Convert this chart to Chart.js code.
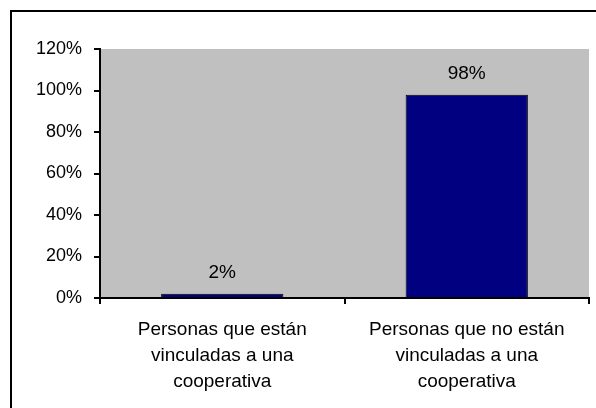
<!DOCTYPE html>
<html>
<head>
<meta charset="utf-8">
<script src="https://cdn.jsdelivr.net/npm/chart.js@4"></script>
<style>
  html, body { margin: 0; padding: 0; background: #fff; }
  #wrap { width: 596px; height: 408px; position: relative; }
</style>
</head>
<body>
<div id="wrap"><canvas id="chart"></canvas></div>
<script>
const categories = [
  ["Personas que están", "vinculadas a una", "cooperativa"],
  ["Personas que no están", "vinculadas a una", "cooperativa"],
];
const values = [2, 98];
const valueLabels = ["2%", "98%"];
const yTicks = [0, 20, 40, 60, 80, 100, 120];

const fontFamily = "'Liberation Sans', Arial, sans-serif";

// gray plot background + outer frame
const backdrop = {
  id: "backdrop",
  beforeDraw(chart) {
    const { ctx, chartArea: a } = chart;
    ctx.save();
    ctx.fillStyle = "#c0c0c0";
    ctx.fillRect(a.left, a.top, a.right - a.left, a.bottom - a.top);
    ctx.strokeStyle = "#000";
    ctx.lineWidth = 2;
    ctx.strokeRect(11, 11, 640, 600);
    ctx.restore();
  },
};

// value labels above the bars
const barLabels = {
  id: "barLabels",
  afterDatasetsDraw(chart) {
    const { ctx } = chart;
    const meta = chart.getDatasetMeta(0);
    ctx.save();
    ctx.font = "19px " + fontFamily;
    ctx.fillStyle = "#000";
    ctx.textAlign = "center";
    ctx.textBaseline = "middle";
    meta.data.forEach((bar, i) => {
      ctx.fillText(valueLabels[i], bar.x, bar.y - 21);
    });
    ctx.restore();
  },
};

const chart = new Chart(document.getElementById("chart").getContext("2d"), {
  type: "bar",
  data: {
    labels: categories,
    datasets: [
      {
        data: values,
        backgroundColor: "#000080",
        borderColor: "#000",
        borderWidth: 1,
        categoryPercentage: 1,
        barPercentage: 0.5,
      },
    ],
  },
  options: {
    responsive: true,
    maintainAspectRatio: false,
    animation: false,
    layout: { padding: { top: 49, right: 7, left: 0, bottom: 0 } },
    plugins: { legend: { display: false }, tooltip: { enabled: false } },
    scales: {
      y: {
        min: 0,
        max: 120,
        afterFit(scale) { scale.width = 100; },
        afterBuildTicks(scale) { scale.ticks = yTicks.map((v) => ({ value: v })); },
        grid: { drawOnChartArea: false, color: "#000", lineWidth: 2, tickLength: 6 },
        border: { color: "#000", width: 2 },
        ticks: {
          color: "#000",
          padding: 12,
          font: { family: fontFamily, size: 18 },
          callback: (v) => v + "%",
        },
      },
      x: {
        afterFit(scale) { scale.height = 408 - 298; },
        grid: { drawOnChartArea: false, offset: true, color: "#000", lineWidth: 2, tickLength: 6 },
        border: { color: "#000", width: 2 },
        ticks: {
          color: "#000",
          padding: 13,
          maxRotation: 0,
          font: { family: fontFamily, size: 19, lineHeight: "26px" },
        },
      },
    },
  },
  plugins: [backdrop, barLabels],
});
</script>
</body>
</html>
